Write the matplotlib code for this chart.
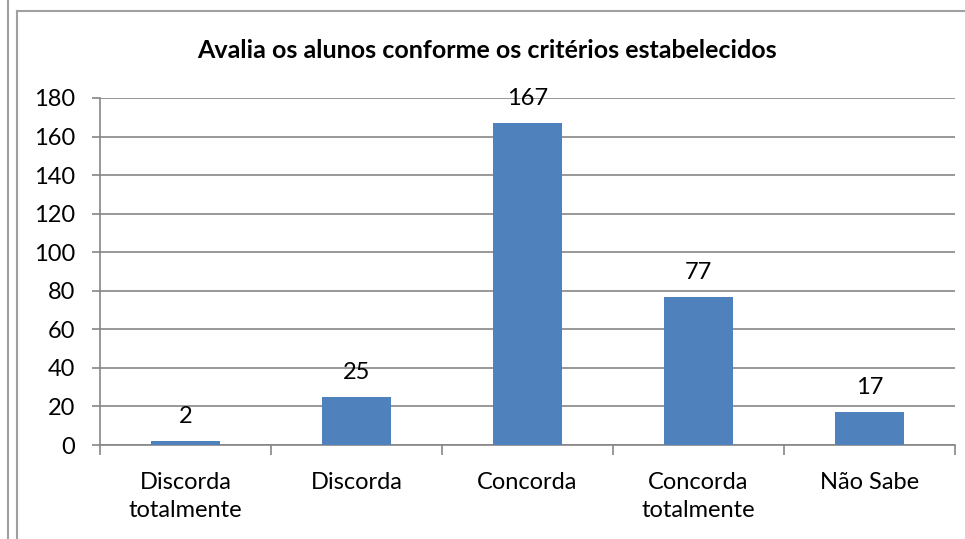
import matplotlib.pyplot as plt
from matplotlib.lines import Line2D

categories = ["Discorda\ntotalmente", "Discorda", "Concorda", "Concorda\ntotalmente", "Não Sabe"]
values = [2, 25, 167, 77, 17]
yticks = [0, 20, 40, 60, 80, 100, 120, 140, 160, 180]
title = "Avalia os alunos conforme os critérios estabelecidos"

plt.rcParams['font.family'] = ['Lato', 'DejaVu Sans']

fig = plt.figure(figsize=(9.65, 5.39), dpi=100)
ax = fig.add_axes([100 / 965, 1 - 445 / 539, 855 / 965, 347 / 539])

x = list(range(len(values)))
bars = ax.bar(x, values, width=0.4, color='#4F81BD', zorder=3)
for xi, v in zip(x, values):
    ax.annotate(str(v), (xi, v), xytext=(0, 10), textcoords='offset points',
                ha='center', va='bottom', fontsize=17, color='black')

ax.set_xlim(-0.5, len(values) - 0.5)
ax.set_ylim(0, 180)
ax.set_yticks(yticks)
ax.set_yticklabels([str(t) for t in yticks], fontsize=17)
ax.yaxis.grid(True, color='#868686', linewidth=1.2, zorder=0)
ax.tick_params(axis='y', length=6, width=1.2, color='#868686', pad=12)

# category labels centred, tick marks between categories
ax.set_xticks([i - 0.5 for i in range(len(values) + 1)])
ax.set_xticklabels([])
ax.tick_params(axis='x', length=7, width=1.2, color='#868686')
for xi, c in zip(x, categories):
    ax.text(xi, -14, c, ha='center', va='top', fontsize=17, linespacing=1.4)

for s in ['top', 'right']:
    ax.spines[s].set_visible(False)
for s in ['left', 'bottom']:
    ax.spines[s].set_color('#868686')
    ax.spines[s].set_linewidth(1.2)

fig.text(487 / 965, 1 - 58 / 539, title, ha='center', va='baseline',
         fontsize=18, fontweight='bold')

# surrounding frame lines
fig.add_artist(Line2D([8 / 965, 8 / 965], [0, 1], color='#A0A0A0', linewidth=1.5))
fig.add_artist(Line2D([17 / 965, 17 / 965], [0, 1 - 11 / 539], color='#A0A0A0', linewidth=1.5))
fig.add_artist(Line2D([17 / 965, 1], [1 - 11 / 539, 1 - 11 / 539], color='#A0A0A0', linewidth=1.5))

fig.savefig('out.png', dpi=100)
